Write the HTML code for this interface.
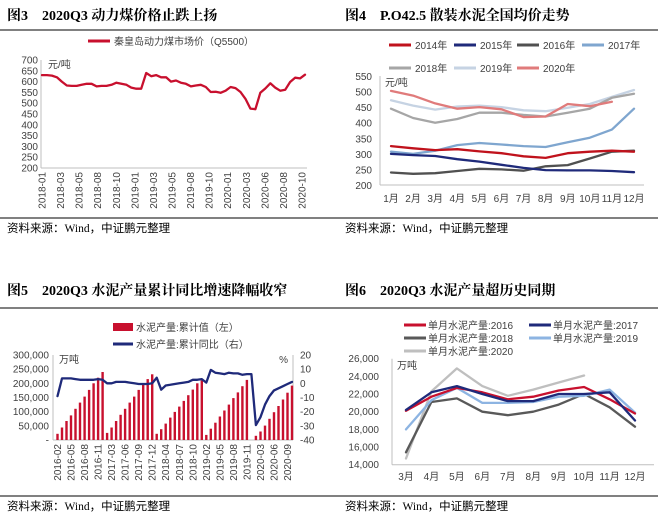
<!DOCTYPE html>
<html><head><meta charset="utf-8"><style>
html,body{margin:0;padding:0;background:#fff}
svg{display:block}
.t{font-family:"Liberation Serif","Noto Serif CJK SC",serif;font-weight:bold;font-size:14px;fill:#000}
.s{font-family:"Liberation Serif","Noto Sans CJK SC",sans-serif;font-size:11.5px;fill:#000}
.a{font-family:"Liberation Sans","Noto Sans CJK SC",sans-serif;font-size:10px;fill:#404040}
.l{font-family:"Liberation Sans","Noto Sans CJK SC",sans-serif;font-size:10px;fill:#404040}
</style></head><body>
<svg id="c" width="658" height="516" viewBox="0 0 658 516" xmlns="http://www.w3.org/2000/svg"></svg>
<script>
// ---------- data ----------
const coalTicks=["2018-01","2018-03","2018-05","2018-08","2018-10","2019-01","2019-03","2019-05","2019-08","2019-10","2020-01","2020-03","2020-06","2020-08","2020-10"];
const coalYTicks=[200,250,300,350,400,450,500,550,600,650,700];
const coalPrice=[630,630,628,620,600,582,580,580,585,590,590,578,580,580,585,595,590,585,572,567,567,640,625,630,620,620,600,605,595,590,578,582,585,575,552,553,548,558,575,570,552,520,475,472,548,568,592,572,558,562,598,618,615,632];

const cemMonths=["1月","2月","3月","4月","5月","6月","7月","8月","9月","10月","11月","12月"];
const cemYTicks=[200,250,300,350,400,450,500,550];
const cemYears=["2014年","2015年","2016年","2017年","2018年","2019年","2020年"];
const p2014=[325,318,312,315,308,302,292,287,302,307,310,307];
const p2015=[300,296,293,283,275,265,255,248,247,247,245,241];
const p2016=[240,236,238,245,252,250,246,260,264,285,307,310];
const p2017=[307,300,310,328,335,330,325,322,337,352,378,445];
const p2018=[445,415,400,412,432,432,425,420,432,445,480,493];
const p2019=[472,455,442,452,455,450,440,437,448,460,483,505];
const p2020=[502,487,462,445,450,443,418,420,460,453,467];

const prodTicks=["2016-02","2016-05","2016-08","2016-11","2017-03","2017-06","2017-09","2017-12","2018-04","2018-07","2018-10","2019-02","2019-05","2019-08","2019-11","2020-03","2020-06","2020-09"];
const prodLeftTicks=["-","50,000","100,000","150,000","200,000","250,000","300,000"];
const prodRightTicks=[-40,-30,-20,-10,0,10,20];
const cumValue=[22000,44000,67000,87000,110000,132000,153000,177000,200000,220000,240000,
25000,44000,67000,89000,110000,132000,153000,177000,200000,215000,232000,
22000,38000,58000,79000,99000,118000,138000,158000,178000,200000,210000,
18000,40000,61000,83000,104000,125000,148000,168000,190000,212000,null,
15000,30000,51000,75000,98000,120000,143000,167000,192000];
const cumYoY=[-9,3.5,3.5,3.5,3,2.5,2.5,2.5,2.5,3,2.5,
0,0,1,1,1,0.5,0,-0.5,-0.5,-0.5,0,
4,-4.5,-1.5,-1,-0.5,0,0.5,1,2.5,2.5,3,
0.5,9.5,7.5,7,6.5,7.5,7,7,6,6.5,6.5,
-29.5,-24,-15,-9,-5,-3.5,-2,-0.5,1];

const monMonths=["3月","4月","5月","6月","7月","8月","9月","10月","11月","12月"];
const monYTicks=["14,000","16,000","18,000","20,000","22,000","24,000","26,000"];
const m2016=[20100,21700,22700,22200,21400,21700,22400,22800,21400,19800];
const m2017=[20200,22200,22900,22000,21200,21200,22000,22000,22200,19000];
const m2018=[15400,21100,21500,20000,19600,20000,20800,22000,20500,18300];
const m2019=[18000,21300,22700,21000,21000,21100,21700,21800,22500,19900];
const m2020=[14700,22300,24900,22900,21800,22500,23300,24100];

// ---------- helpers ----------
const svg=document.getElementById('c');
const NS="http://www.w3.org/2000/svg";
function mk(tag,attrs,parent){const e=document.createElementNS(NS,tag);for(const k in attrs)e.setAttribute(k,attrs[k]);(parent||svg).appendChild(e);return e;}
function txt(x,y,s,cls,anchor,parent){const e=mk('text',{x:x,y:y,class:cls,'text-anchor':anchor||'start'},parent);e.textContent=s;return e;}
function grp(name){const g=mk('g',{});return g;}
function poly(pts,color,w,parent){const e=mk('polyline',{points:pts.join(' '),fill:'none',stroke:color,'stroke-width':w,'stroke-linejoin':'round','stroke-linecap':'round'},parent);return e;}

// ---------- frames ----------
const frame=grp('panel-frames');
[[0,30,329],[329,30,658],[0,218,329],[329,218,658],[0,308,329],[329,308,658],[0,496,329],[329,496,658]].forEach(r=>mk('line',{x1:r[0],x2:r[2],y1:r[1],y2:r[1],stroke:'#000','stroke-width':1},frame));
let t;
t=txt(7,20,"图3　2020Q3 动力煤价格止跌上扬",'t');
t=txt(345,20,"图4　P.O42.5 散装水泥全国均价走势",'t');
t=txt(7,295,"图5　2020Q3 水泥产量累计同比增速降幅收窄",'t');
t=txt(345,295,"图6　2020Q3 水泥产量超历史同期",'t');
[[7,232],[345,232],[7,510],[345,510]].forEach((p,i)=>{t=txt(p[0],p[1],"资料来源：Wind，中证鹏元整理",'s');});

// ---------- panel 1 ----------
(function(){
const g=grp('coal-chart');
const x0=42,x1=305,yT=60,yB=168;
const y=v=>yB-(v-200)/500*(yB-yT);
mk('line',{x1:41,x2:41,y1:yT,y2:yB,stroke:'#bfbfbf'},g);
coalYTicks.forEach(v=>{const e=txt(38,y(v)+3.5,String(v),'a','end',g);});
mk('line',{x1:41,x2:307,y1:yB,y2:yB,stroke:'#bfbfbf'},g);
const step=(302-42)/(coalTicks.length-1);
coalTicks.forEach((s,i)=>{const xx=42+i*step;const e=txt(0,0,s,'a','end',g);e.setAttribute('transform',`translate(${xx+3.5},172) rotate(-90)`);});
txt(48,68,"元/吨",'l','start',g);
const xs=i=>x0+i*(x1-x0)/(coalPrice.length-1);
const ln=poly(coalPrice.map((v,i)=>xs(i).toFixed(1)+','+y(v).toFixed(1)),'#c8102e',2.3,g);

const lg=grp('coal-legend');
mk('line',{x1:88,x2:110,y1:41,y2:41,stroke:'#c8102e','stroke-width':3},lg);
txt(114,45,"秦皇岛动力煤市场价（Q5500）",'l','start',lg);
})();

// ---------- panel 2 ----------
(function(){
const g=grp('cement-price-chart');
const yT=76,yB=185,xL=380,xR=644;
const y=v=>yB-(v-200)/350*(yB-yT);
const step=(634-391)/11;
const x=i=>391+i*step;
mk('line',{x1:xL,x2:xR,y1:yB,y2:yB,stroke:'#bfbfbf'},g);
mk('line',{x1:xL,x2:xL,y1:yT,y2:yB,stroke:'#bfbfbf'},g);
cemYTicks.forEach(v=>{const e=txt(372,y(v)+4,String(v),'a','end',g);});
cemMonths.forEach((m,i)=>{const e=txt(x(i),202,m,'a','middle',g);});
txt(385,86,"元/吨",'l','start',g);
const series=[p2014,p2015,p2016,p2017,p2018,p2019,p2020];
const colors=['#c0121c','#1f2a7a','#505050','#7fa6cf','#a6a6a6','#c6d3e3','#e07b7b'];
const order=[5,4,6,3,2,1,0];
order.forEach(k=>{const e=poly(series[k].map((v,i)=>x(i).toFixed(1)+','+y(v).toFixed(1)),colors[k],2.3,g);});
const lg=grp('cement-price-legend');
const pos=[[389,45],[454,45],[517,45],[582,45],[389,68],[454,68],[517,68]];
cemYears.forEach((s,k)=>{mk('line',{x1:pos[k][0],x2:pos[k][0]+22,y1:pos[k][1],y2:pos[k][1],stroke:colors[k],'stroke-width':3},lg);const e=txt(pos[k][0]+26,pos[k][1]+4,s,'l','start',lg);});
})();

// ---------- panel 3 ----------
(function(){
const g=grp('cement-cumulative-chart');
const yT=355,yB=440,xL=53,xR=293;
const yl=v=>yB-v/300000*(yB-yT);
const yr=v=>yB-(v+40)/60*(yB-yT);
const step=4.51;
const x=i=>57.5+i*step;
mk('line',{x1:xL,x2:xL,y1:yT,y2:yB,stroke:'#bfbfbf'},g);
mk('line',{x1:xR,x2:xR,y1:yT,y2:yB,stroke:'#bfbfbf'},g);
mk('line',{x1:xL,x2:xR,y1:yB,y2:yB,stroke:'#bfbfbf'},g);
prodLeftTicks.forEach((s,i)=>{const e=txt(49,yl(i*50000)+3.5,s,'a','end',g);});
prodRightTicks.forEach(v=>{const e=txt(300,yr(v)+3.5,String(v),'a','start',g);});
prodTicks.forEach((s,i)=>{const xx=x(i*3);const e=txt(0,0,s,'a','end',g);e.setAttribute('transform',`translate(${xx+3.5},444) rotate(-90)`);});
txt(59,363,"万吨",'l','start',g);
txt(288,363,"%",'l','end',g);
cumValue.forEach((v,i)=>{if(v==null)return;const r=mk('rect',{x:(x(i)-1.2).toFixed(1),y:yl(v).toFixed(1),width:2.4,height:(yB-yl(v)).toFixed(1),fill:'#c8102e'},g);});
const ln=poly(cumYoY.map((v,i)=>x(i).toFixed(1)+','+yr(v).toFixed(1)),'#1f2a7a',2.3,g);

const lg=grp('cumulative-legend');
mk('rect',{x:113,y:323,width:20,height:8,fill:'#c8102e'},lg);
txt(136,331,"水泥产量:累计值（左）",'l','start',lg);
mk('line',{x1:113,x2:133,y1:344,y2:344,stroke:'#1f2a7a','stroke-width':3},lg);
txt(136,348,"水泥产量:累计同比（右）",'l','start',lg);
})();

// ---------- panel 4 ----------
(function(){
const g=grp('monthly-production-chart');
const yT=358.7,yB=464.7,xL=392,xR=654;
const y=v=>yB-(v-14000)/12000*(yB-yT);
const step=(635-406)/9;
const x=i=>406+i*step;
mk('line',{x1:xL,x2:xL,y1:yT,y2:yB,stroke:'#bfbfbf'},g);
mk('line',{x1:xL,x2:xR,y1:yB,y2:yB,stroke:'#bfbfbf'},g);
monYTicks.forEach((s,i)=>{const e=txt(379,y(14000+i*2000)+3.5,s,'a','end',g);});
monMonths.forEach((m,i)=>{const e=txt(x(i),480,m,'a','middle',g);});
txt(397,369,"万吨",'l','start',g);
const series=[m2016,m2017,m2018,m2019,m2020];
const colors=['#c8102e','#1f2a7a','#595959','#8db4e2','#bfbfbf'];
const names=['2016','2017','2018','2019','2020'];
[4,2,3,0,1].forEach(k=>{const e=poly(series[k].map((v,i)=>x(i).toFixed(1)+','+y(v).toFixed(1)),colors[k],2.3,g);});
const lg=grp('monthly-legend');
const pos=[[404,325],[529,325],[404,338],[529,338],[404,351]];
names.forEach((s,k)=>{mk('line',{x1:pos[k][0],x2:pos[k][0]+22,y1:pos[k][1],y2:pos[k][1],stroke:colors[k],'stroke-width':3},lg);const e=txt(pos[k][0]+24,pos[k][1]+4,"单月水泥产量:"+s,'l','start',lg);});
})();
</script>
</body></html>
